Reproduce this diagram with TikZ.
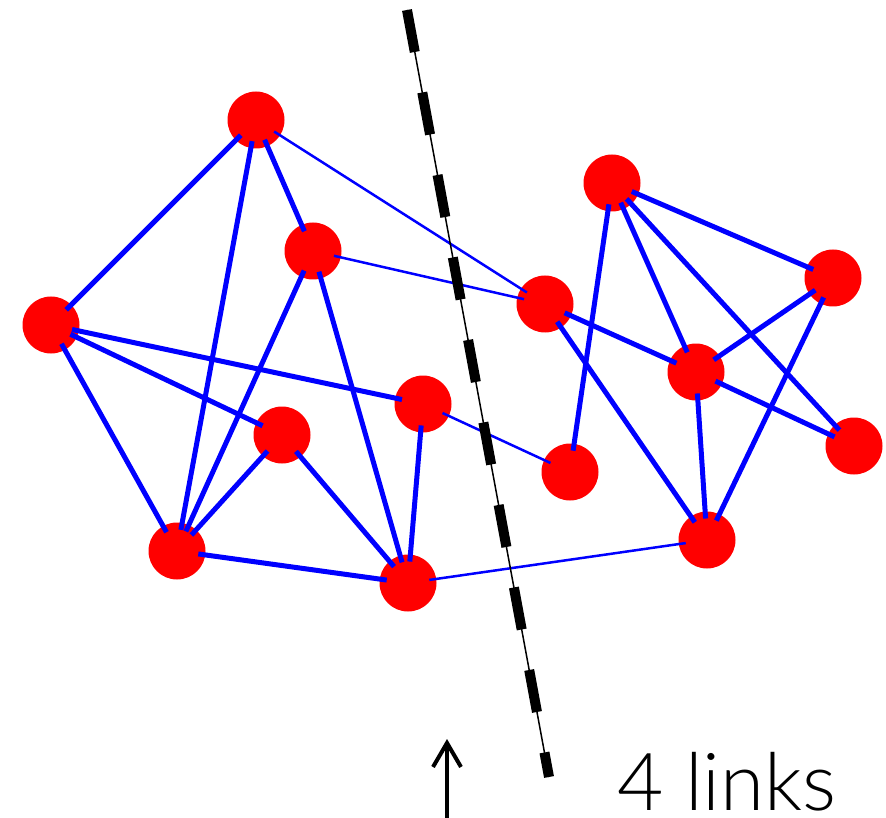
\documentclass[tikz,border=0pt]{standalone}
\usepackage{fontspec}
\newfontfamily\linkfont{Lato Light}
\usetikzlibrary{arrows.meta}
\begin{document}
\begin{tikzpicture}[x=1pt,y=-1pt,line join=round,
  vertex/.style={circle,fill=red,minimum size=57pt,inner sep=0pt,outer sep=0pt},
  strong/.style={blue,line width=5pt,shorten <=-7pt,shorten >=-7pt},
  weak/.style={blue,line width=2.5pt,shorten <=-7pt,shorten >=-7pt}]
\useasboundingbox (0,0) rectangle (886,818);
% left group
\node[vertex] (a) at (256,120) {};
\node[vertex] (b) at (313,251) {};
\node[vertex] (c) at (51,325) {};
\node[vertex] (d) at (423,404) {};
\node[vertex] (e) at (282,435) {};
\node[vertex] (f) at (177,551) {};
\node[vertex] (g) at (408,583) {};
% right group
\node[vertex] (h) at (612,183) {};
\node[vertex] (i) at (833,278) {};
\node[vertex] (j) at (545,304) {};
\node[vertex] (k) at (696,372) {};
\node[vertex] (l) at (854,446) {};
\node[vertex] (m) at (570,472) {};
\node[vertex] (n) at (707,540) {};
% links
\foreach \u/\v in {a/c,a/b,a/f,b/f,b/g,c/d,c/e,c/f,e/f,e/g,f/g,d/g,
                   h/m,h/k,h/i,h/l,j/k,j/n,k/i,k/l,k/n,i/n}
  \draw[strong] (\u) -- (\v);
\foreach \u/\v in {a/j,b/j,d/m,g/n}
  \draw[weak] (\u) -- (\v);
% cut
\coordinate (cuttop) at (407,10);
\coordinate (cutbot) at (549,777);
\draw[line width=1.5pt] (cuttop) -- (cutbot);
\draw[line width=10pt,dash pattern=on 42.7pt off 41.2pt] (cuttop) -- (cutbot);
% arrow and count
\coordinate (arrbot) at (447,822);
\coordinate (arrtip) at (447,739);
\draw[line width=4pt,-{Straight Barb[length=24pt,width=28pt]}] (arrbot) -- (arrtip);
\node[anchor=base west,inner sep=0pt,font=\linkfont\fontsize{80}{80}\selectfont] (count) at (617,810) {4 links};
\end{tikzpicture}
\end{document}
